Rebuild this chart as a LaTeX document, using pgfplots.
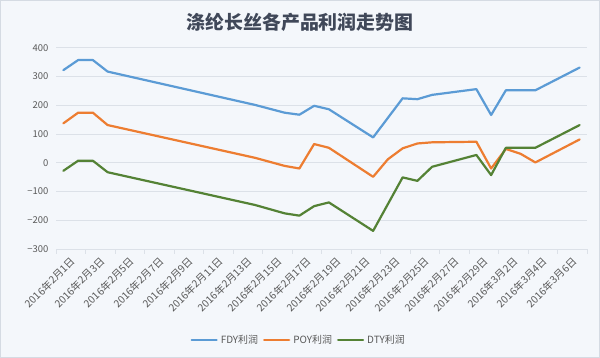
\documentclass[border=0pt]{standalone}
\usepackage{pgfplots}
\pgfplotsset{compat=1.18}
\usepackage{fontspec}
\setmainfont{Noto Sans CJK SC}
\definecolor{bgc}{HTML}{F4F7FB}
\definecolor{framec}{HTML}{D5DBE3}
\definecolor{gridc}{HTML}{DCE1E8}
\definecolor{fdyc}{HTML}{5B9BD5}
\definecolor{poyc}{HTML}{ED7D31}
\definecolor{dtyc}{HTML}{548235}
\definecolor{txtc}{HTML}{595959}
\definecolor{titc}{HTML}{404859}
\begin{document}
\begin{tikzpicture}
\useasboundingbox (0,0) rectangle (600bp,-358bp);
\fill[bgc] (0,0) rectangle (600bp,-358bp);
\draw[framec, line width=0.8bp] (0.4bp,-0.4bp) rectangle (599.6bp,-357.6bp);
\node[font=\fontsize{19}{22}\selectfont\bfseries, text=titc] at (300bp,-22bp) {涤纶长丝各产品利润走势图};
\begin{axis}[
  at={(56bp,-249bp)}, anchor=south west,
  scale only axis, width=531bp, height=201.3bp,
  xmin=-0.5, xmax=35.5, ymin=-300, ymax=400,
  axis line style={draw=none},
  ytick={-300,-200,...,400},
  yticklabels={−300,−200,−100,0,100,200,300,400},
  ymajorgrids, major grid style={gridc, line width=0.8bp},
  ytick pos=left, xtick pos=left,
  major tick length=0pt,
  yticklabel style={font=\fontsize{9.5}{10}\selectfont, text=txtc, xshift=-4bp},
  xtick={0,2,...,34},
  xticklabels={2016年2月1日,2016年2月3日,2016年2月5日,2016年2月7日,2016年2月9日,2016年2月11日,2016年2月13日,2016年2月15日,2016年2月17日,2016年2月19日,2016年2月21日,2016年2月23日,2016年2月25日,2016年2月27日,2016年2月29日,2016年3月2日,2016年3月4日,2016年3月6日},
  xticklabel style={font=\fontsize{10.3}{11}\selectfont, text=txtc, rotate=45, anchor=north east, yshift=-6bp, xshift=3bp},
  extra x ticks={-0.5,1.5,...,35.5},
  extra x tick labels={},
  extra x tick style={grid=none, major tick length=4.5bp, tick align=outside, major tick style={gridc, line width=0.8bp}},
  legend columns=3,
  legend style={at={(0.457,-0.452)}, anchor=center, draw=none, fill=none, font=\fontsize{10}{11}\selectfont, text=txtc, /tikz/every even column/.append style={column sep=3bp}, /tikz/every odd column/.append style={column sep=1bp}},
  legend image code/.code={\draw[#1, line width=2.2bp] (0bp,0bp) -- (25bp,0bp);},
  every axis plot/.append style={line width=2.2bp, line join=round, line cap=round, mark=none},
  clip=false,
]
\addplot[fdyc] coordinates {(0,322)(1,357)(2,357)(3,317)(13,201)(15,174)(16,167)(17,198)(18,186)(21,88)(22,156)(23,224)(24,221)(25,236)(28,256)(29,166)(30,252)(31,252)(32,252)(35,331)};
\addlegendentry{FDY利润}
\addplot[poyc] coordinates {(0,137)(1,174)(2,174)(3,131)(13,17)(15,-11)(16,-20)(17,65)(18,52)(21,-49)(22,12)(23,50)(24,67)(25,71)(28,73)(29,-20)(30,48)(31,31)(32,1)(35,81)};
\addlegendentry{POY利润}
\addplot[dtyc] coordinates {(0,-28)(1,7)(2,7)(3,-33)(13,-147)(15,-176)(16,-184)(17,-151)(18,-138)(21,-237)(22,-144)(23,-51)(24,-63)(25,-14)(28,27)(29,-43)(30,52)(31,52)(32,52)(35,131)};
\addlegendentry{DTY利润}
\end{axis}
\end{tikzpicture}
\end{document}
